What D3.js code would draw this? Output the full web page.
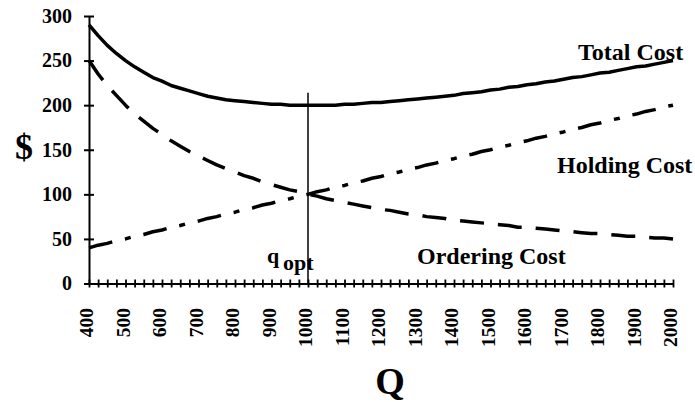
<!DOCTYPE html>
<html><head><meta charset="utf-8">
<script src="https://cdn.jsdelivr.net/npm/d3@7"></script>
<style>html,body{margin:0;padding:0;background:#fff;}svg{display:block;}</style>
</head><body>
<svg id="chart" width="695" height="402"></svg>
<script>
const quantities = [400,425,450,475,500,525,550,575,600,625,650,675,700,725,750,775,800,825,850,875,900,925,950,975,1000,1025,1050,1075,1100,1125,1150,1175,1200,1225,1250,1275,1300,1325,1350,1375,1400,1425,1450,1475,1500,1525,1550,1575,1600,1625,1650,1675,1700,1725,1750,1775,1800,1825,1850,1875,1900,1925,1950,1975,2000];
const totalCost = [290,278,267,258,250,243,237,231,227,222,219,216,213,210,208,206,205,204,203,202,201,201,200,200,200,200,200,200,201,201,202,203,203,204,205,206,207,208,209,210,211,213,214,215,217,218,220,221,223,224,226,227,229,231,232,234,236,237,239,241,243,244,246,248,250];
const holdingCost = [40,43,45,48,50,53,55,58,60,63,65,68,70,73,75,78,80,83,85,88,90,93,95,98,100,103,105,108,110,113,115,118,120,123,125,128,130,133,135,138,140,143,145,148,150,153,155,158,160,163,165,168,170,173,175,178,180,183,185,188,190,193,195,198,200];
const orderingCost = [250,235,222,211,200,190,182,174,167,160,154,148,143,138,133,129,125,121,118,114,111,108,105,103,100,98,95,93,91,89,87,85,83,82,80,78,77,75,74,73,71,70,69,68,67,66,65,63,63,62,61,60,59,58,57,56,56,55,54,53,53,52,51,51,50];
const yTicks = [0,50,100,150,200,250,300];
const xTickLabels = [400,500,600,700,800,900,1000,1100,1200,1300,1400,1500,1600,1700,1800,1900,2000];
const optimalQ = 1000;
const seriesLabels = ["Total Cost","Holding Cost","Ordering Cost"];

const svg = d3.select("#chart");
const FONT = "'Liberation Serif','Times New Roman',serif";
const x = d3.scalePoint().domain(quantities).range([89, 673]);
const y = d3.scaleLinear().domain([0,300]).range([283.5, 16]);

// series lines
const line = d3.line().x((d,i)=>x(quantities[i])).y(d=>y(d));
const series = [
  {vals: totalCost, dash: null},
  {vals: holdingCost, dash: "24,13,6,13"},
  {vals: orderingCost, dash: "24,14"}
];
series.forEach(s=>{
  svg.append("path").attr("d", line(s.vals)).attr("fill","none")
    .attr("stroke","#000").attr("stroke-width",3.5)
    .attr("stroke-dasharray", s.dash).attr("stroke-linejoin","round");
});

// q opt line
svg.append("line").attr("x1",x(optimalQ)).attr("x2",x(optimalQ))
  .attr("y1",y(214)).attr("y2",y(0)).attr("stroke","#000").attr("stroke-width",1.5);

// y axis
const yAxis = svg.append("g").attr("transform","translate(89,0)")
  .call(d3.axisLeft(y).tickValues(yTicks).tickSize(0).tickPadding(17));
yAxis.select(".domain").attr("stroke","#000").attr("stroke-width",2);
yAxis.selectAll(".tick").append("line").attr("x1",-5).attr("x2",5).attr("stroke","#000").attr("stroke-width",2);
yAxis.selectAll(".tick text").attr("font-family",FONT).attr("font-weight","bold").attr("font-size",20).attr("fill","#000");

// x axis
const xAxis = svg.append("g").attr("transform",`translate(0,${y(0)})`)
  .call(d3.axisBottom(x).tickSize(0).tickFormat(d => xTickLabels.includes(d) ? d : ""));
xAxis.select(".domain").attr("stroke","#000").attr("stroke-width",2);
xAxis.selectAll(".tick").append("line").attr("y1",-4).attr("y2",4).attr("stroke","#000").attr("stroke-width",1.8);
xAxis.selectAll(".tick text")
  .attr("font-family",FONT).attr("font-weight","bold").attr("font-size",19.5).attr("fill","#000")
  .attr("transform","rotate(-90)").attr("text-anchor","end").attr("dy","0.2em").attr("x",-24.5).attr("y",0);

// axis titles
svg.append("text").attr("x",24).attr("y",159).attr("text-anchor","middle")
  .attr("font-family",FONT).attr("font-weight","bold").attr("font-size",36).text("$");
svg.append("text").attr("x",390).attr("y",394).attr("text-anchor","middle")
  .attr("font-family",FONT).attr("font-weight","bold").attr("font-size",38).text("Q");

// series labels
const lab = (t,xx,yy)=>svg.append("text").attr("x",xx).attr("y",yy)
  .attr("font-family",FONT).attr("font-weight","bold").attr("font-size",24).text(t);
lab(seriesLabels[0],578,60);
lab(seriesLabels[1],557,173);
lab(seriesLabels[2],417,264);

// q opt label
svg.append("text").attr("x",267).attr("y",263)
  .attr("font-family",FONT).attr("font-weight","bold").attr("font-size",22).text("q");
svg.append("text").attr("x",283).attr("y",270)
  .attr("font-family",FONT).attr("font-weight","bold").attr("font-size",22).text("opt");
</script>
</body></html>
